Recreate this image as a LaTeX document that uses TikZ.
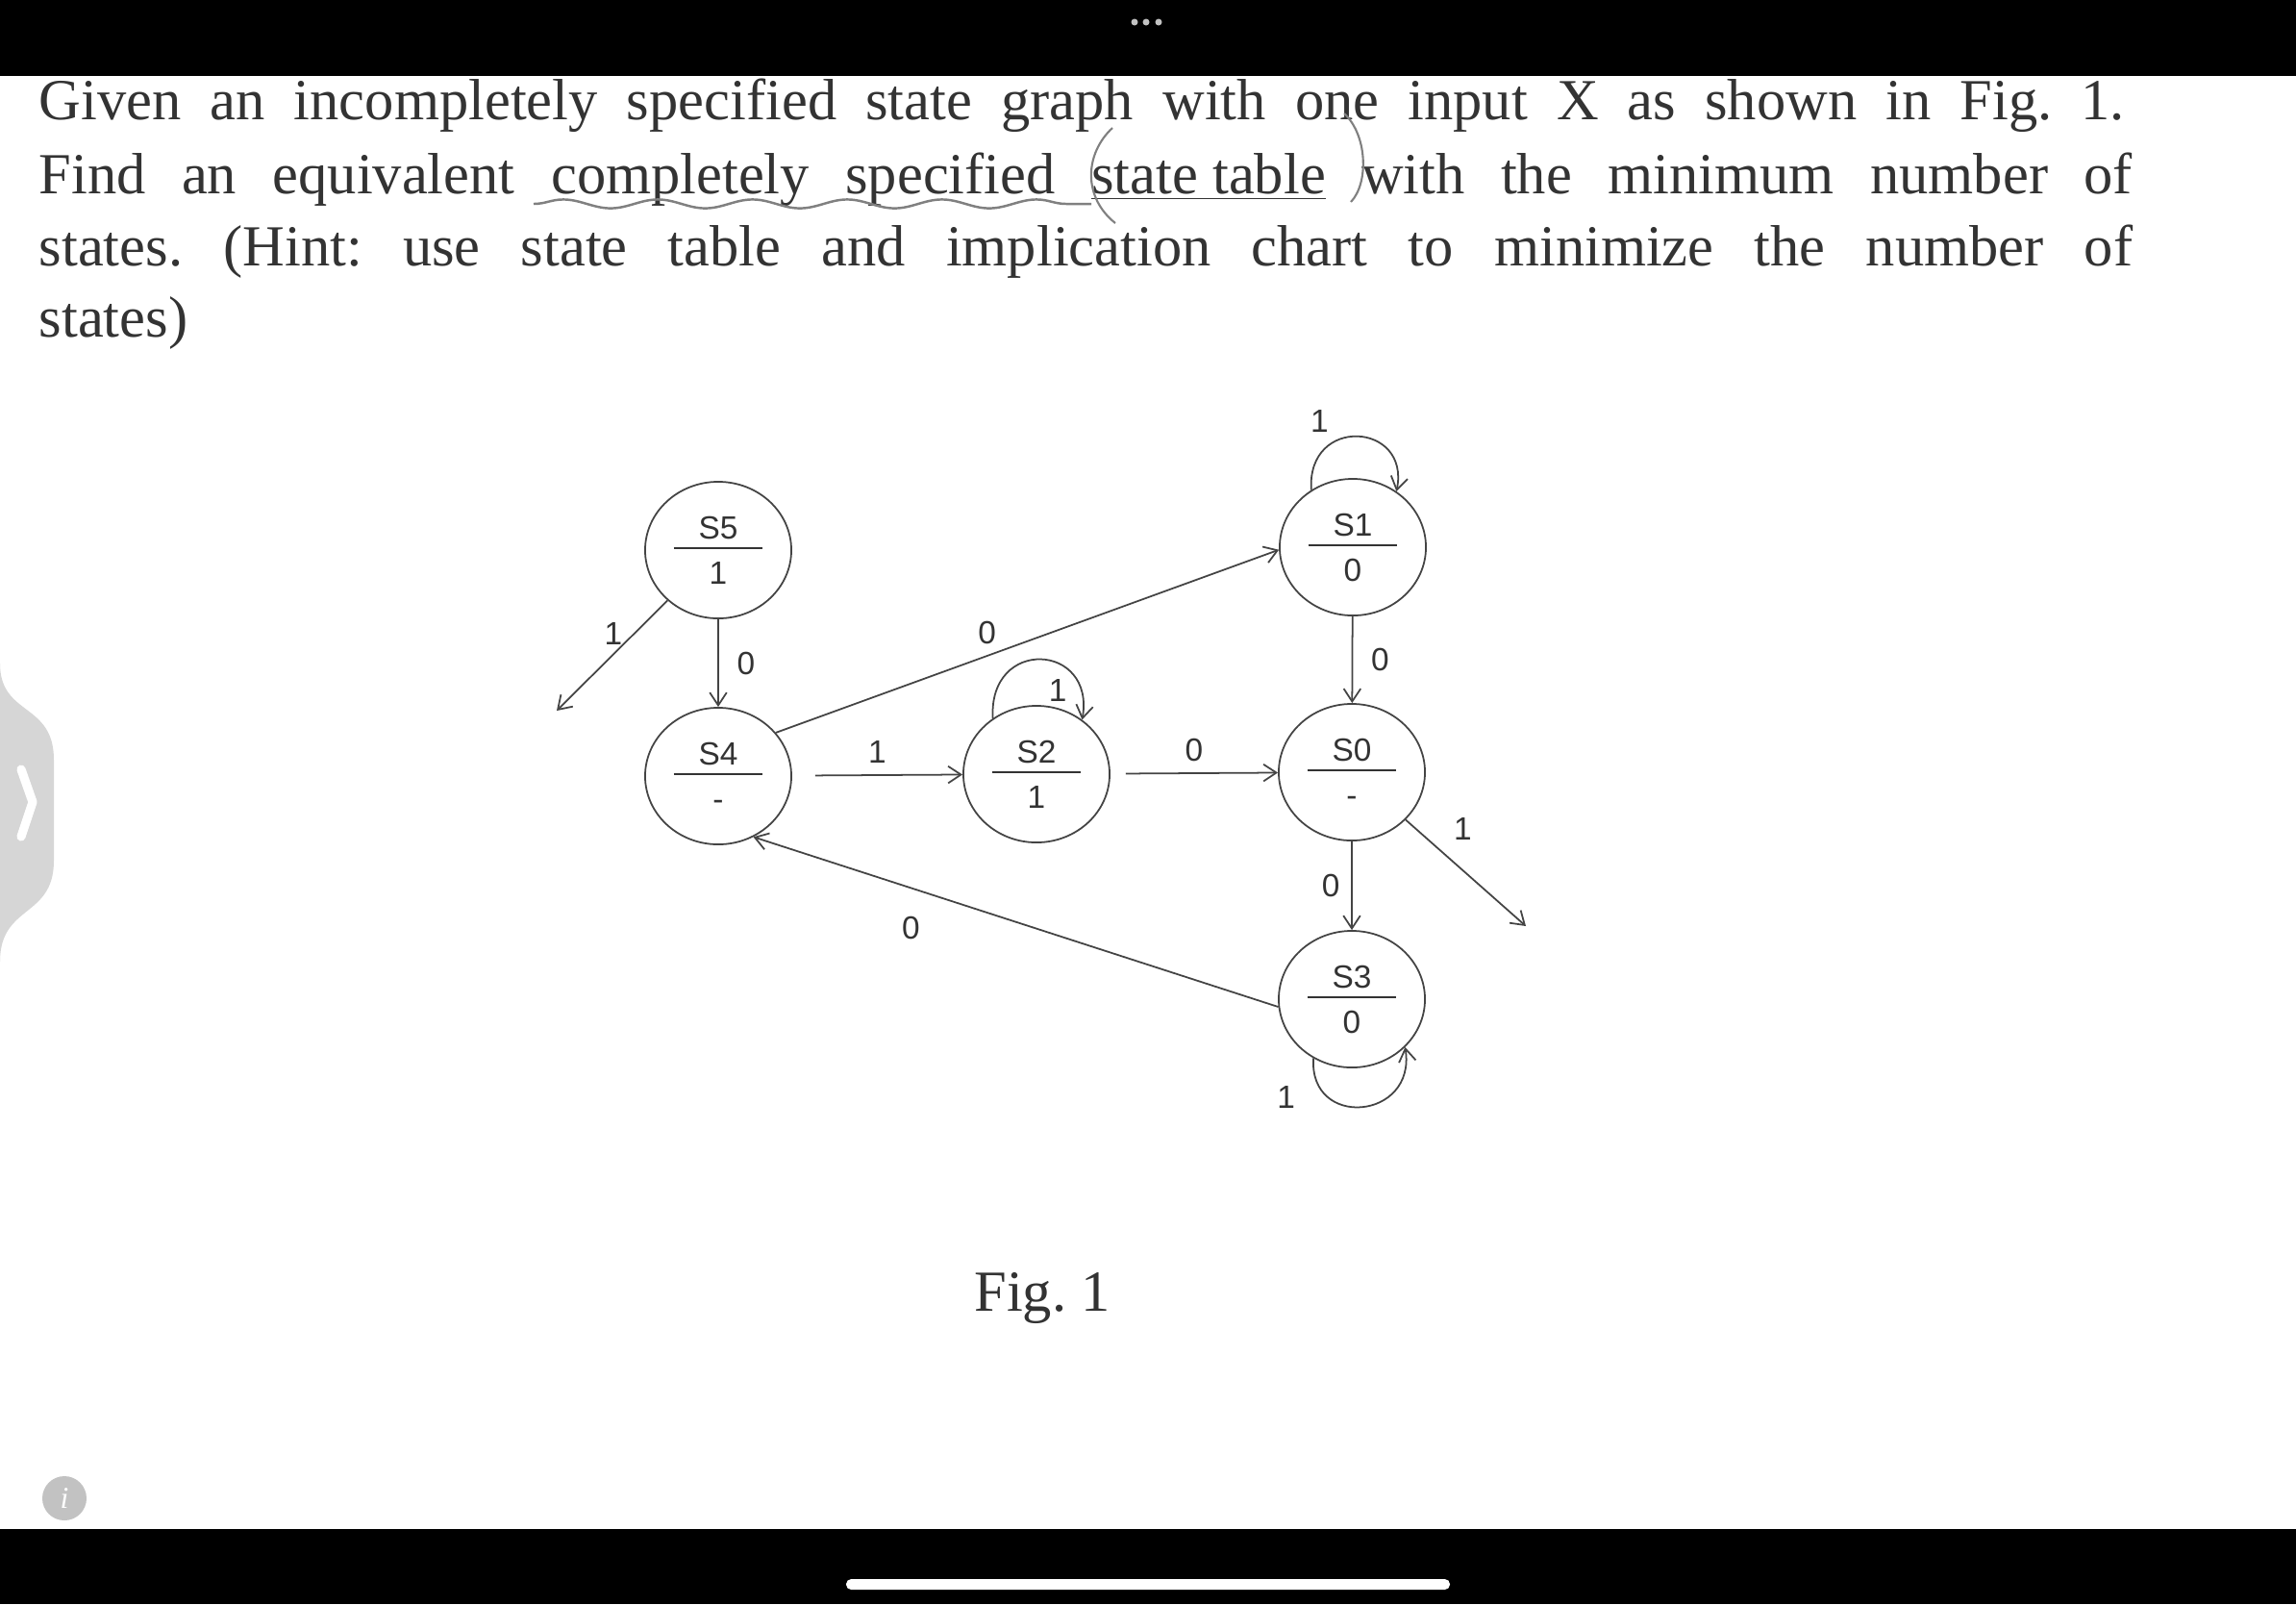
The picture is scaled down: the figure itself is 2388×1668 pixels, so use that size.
\documentclass[tikz,border=0pt]{standalone}
\usepackage{fontspec}
\setmainfont{Liberation Serif}
\newfontfamily\diagfont{Liberation Sans}
\usetikzlibrary{positioning,arrows.meta,shapes.geometric,decorations.pathmorphing}
\definecolor{inkgrey}{HTML}{333333}
\definecolor{linegrey}{HTML}{444444}
\definecolor{pengrey}{HTML}{808080}
\definecolor{tabgrey}{HTML}{D6D6D6}
\definecolor{icongrey}{HTML}{C2C2C2}
\newcommand{\stlab}[2]{\vbox{\hbox to 0.92cm{\hss\rule{0pt}{6.9pt}#1\hss}\kern2.3pt
    \hrule height0.5pt\kern3.4pt\hbox to 0.92cm{\hss\rule{0pt}{6.9pt}#2\hss}}}
\frenchspacing

\begin{document}
\begin{tikzpicture}[x=0.01cm, y=-0.01cm,
        st/.style={ellipse, draw=linegrey, line width=0.5pt,
                   minimum width=1.52cm, minimum height=1.42cm, inner sep=0pt,
                   font=\diagfont\fontsize{9.5}{11}\selectfont, text=inkgrey},
        arr/.style={-{Straight Barb[length=3.8pt,width=5pt]}, draw=linegrey, line width=0.5pt},
        lbl/.style={font=\diagfont\fontsize{9.5}{11}\selectfont, text=inkgrey},
        txt/.style={anchor=base west, inner sep=0pt,
                    font=\fontsize{17.2}{20.6}\selectfont, text=inkgrey}
      ]
        \useasboundingbox (0,0) rectangle (2388,1668);
        \fill[white] (0,0) rectangle (2388,1668);

        % screen frame
        \fill[black] (0,0) rectangle (2388,79);
        \fill[black] (0,1590) rectangle (2388,1668);
        \foreach \dx in {1180,1192,1205} \fill[icongrey] (\dx,23) circle (3.5);
        \fill[white, rounded corners=1.5pt] (880,1642) rectangle (1508,1653);
        \fill[tabgrey] (0,690) .. controls (0,745) and (56,730) .. (56,790)
              -- (56,895) .. controls (56,955) and (0,940) .. (0,1000) -- cycle;
        \draw[white, line width=2.6pt, line cap=round, line join=round]
              (22,800) -- (34,834) -- (22,870);
        \fill[icongrey] (67,1558) circle (23);
        \node[text=white, font=\fontsize{9}{10}\selectfont\itshape] (info) at (67,1558) {i};

        % question text
        \node[txt] (l1) at (40,124) {\makebox[21.68cm][s]{Given an incompletely specified state graph with one input X as shown in Fig.~1.}};
        \node[txt] (l2) at (40,201) {\makebox[21.76cm][s]{Find an equivalent completely specified \underline{state table} with the minimum number of}};
        \node[txt] (l3) at (40,276) {\makebox[21.76cm][s]{states. (Hint: use state table and implication chart to minimize the number of}};
        \node[txt] (l4) at (40,350) {states)};

        % pen marks
        \draw[pengrey, line width=0.7pt, decorate,
              decoration={snake, amplitude=1.3pt, segment length=28pt}] (555,212) -- (1135,212);
        \draw[pengrey, line width=0.6pt] (1157,133) .. controls (1128,160) and (1126,205) .. (1160,232);
        \draw[pengrey, line width=0.6pt] (1398,118) .. controls (1422,140) and (1424,190) .. (1405,210);

        % states
        \node[st] (S5) at (747,572) {\stlab{S5}{1}};
        \node[st] (S4) at (747,807) {\stlab{S4}{-}};
        \node[st] (S2) at (1078,805) {\stlab{S2}{1}};
        \node[st] (S1) at (1407,569) {\stlab{S1}{0}};
        \node[st] (S0) at (1406,803) {\stlab{S0}{-}};
        \node[st] (S3) at (1406,1039) {\stlab{S3}{0}};
        \coordinate (s5out) at (579,739);
        \coordinate (s0out) at (1587,963);

        % transitions
        \draw[arr] (S5) -- (S4) node[lbl, midway, right=2pt] {0};
        \draw[arr] (S5) -- (s5out) node[lbl, pos=0.3, left] {1};
        \draw[arr] (S4.37) -- (S1.182) node[lbl, pos=0.42, above] {0};
        \draw[arr, shorten <=6.8pt] (S4) -- (S2) node[lbl, midway, above] {1};
        \draw[arr] (S2.128) .. controls +(-5,-85) and +(14,-80) .. (S2.50)
              node[lbl, pos=0.62, below=1pt] {1};
        \draw[arr, shorten <=4.5pt] (S2) -- (S0) node[lbl, midway, above] {0};
        \draw[arr] (S1.126) .. controls +(-5,-78) and +(15,-72) .. (S1.52)
              node[lbl, pos=0.2, above=3pt] {1};
        \draw[arr] (S1) -- (S0) node[lbl, midway, right=2pt] {0};
        \draw[arr] (S0) -- (S3) node[lbl, midway, left] {0};
        \draw[arr] (S0) -- (s0out) node[lbl, pos=0.3, above right] {1};
        \draw[arr] (S3.186) -- (S4.300) node[lbl, pos=0.7, below=5pt] {0};
        \draw[arr] (S3.237) .. controls +(-5,74) and +(12,76) .. (S3.318)
              node[lbl, pos=0.25, left=6pt] {1};

        \node[anchor=base, inner sep=0pt, font=\fontsize{17.2}{20.6}\selectfont, text=inkgrey]
              (cap) at (1084,1363) {Fig.~1};
\end{tikzpicture}
\end{document}
